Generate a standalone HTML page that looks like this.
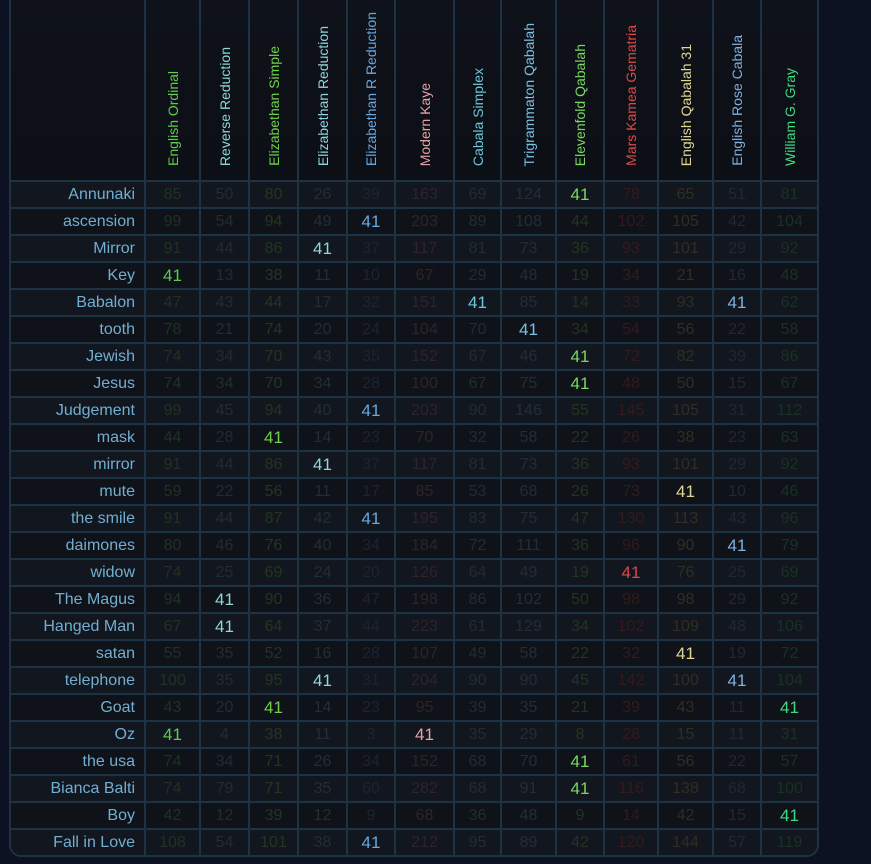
<!DOCTYPE html>
<html><head><meta charset="utf-8"><style>
html,body{margin:0;padding:0;background:#0c1222;width:871px;height:864px;overflow:hidden}
.wrap{position:absolute;left:9px;top:-12px;width:806px;border:2px solid #1b3343;border-radius:12px;overflow:hidden;background:#0d1017}
table{border-collapse:collapse;table-layout:fixed;width:806px;font-family:"Liberation Sans",sans-serif}
td,th{border:2px solid #1b3343;padding:0;text-align:center}
tr:first-child th{border-top:none}
tr td:first-child,tr th:first-child{border-left:none}
tr td:last-child,tr th:last-child{border-right:none}
tr:last-child td{border-bottom:none}
th{height:190px;vertical-align:bottom;font-weight:normal;background:linear-gradient(#0f121a,#0c0f15)}
th span{display:inline-block;writing-mode:vertical-rl;transform:rotate(180deg);font-size:14px;padding-top:9px;white-space:nowrap}
td{height:25px;font-size:16px;line-height:25px}
tbody tr:nth-child(odd) td{background:#12161f}
tbody tr:nth-child(even) td{background:#0f1219}
td.l{text-align:right;padding-right:9px;color:#72aed0;font-size:16px}
td.h{font-size:17px}
</style></head><body>
<div class="wrap"><table>
<colgroup><col style="width:134px"><col style="width:55px"><col style="width:49px"><col style="width:49px"><col style="width:49px"><col style="width:48px"><col style="width:59px"><col style="width:47px"><col style="width:55px"><col style="width:48px"><col style="width:54px"><col style="width:55px"><col style="width:48px"><col style="width:56px"></colgroup>
<thead><tr><th></th>
<th><span style="color:#5ecb4a">English Ordinal</span></th>
<th><span style="color:#8fd6d6">Reverse Reduction</span></th>
<th><span style="color:#6fd04a">Elizabethan Simple</span></th>
<th><span style="color:#8fd6e0">Elizabethan Reduction</span></th>
<th><span style="color:#6aa8e0">Elizabethan R Reduction</span></th>
<th><span style="color:#e8a0a8">Modern Kaye</span></th>
<th><span style="color:#6cc8d8">Cabala Simplex</span></th>
<th><span style="color:#7cc0e0">Trigrammaton Qabalah</span></th>
<th><span style="color:#7ad860">Elevenfold Qabalah</span></th>
<th><span style="color:#e04848">Mars Kamea Gematria</span></th>
<th><span style="color:#e0d890">English Qabalah 31</span></th>
<th><span style="color:#80b0e0">English Rose Cabala</span></th>
<th><span style="color:#40d880">William G. Gray</span></th>
</tr></thead>
<tbody id="b">
<tr><td class="l">Annunaki</td><td>85</td><td>50</td><td>80</td><td>26</td><td>39</td><td>163</td><td>69</td><td>124</td><td>41</td><td>78</td><td>65</td><td>51</td><td>81</td></tr>
<tr><td class="l">ascension</td><td>99</td><td>54</td><td>94</td><td>49</td><td>41</td><td>203</td><td>89</td><td>108</td><td>44</td><td>102</td><td>105</td><td>42</td><td>104</td></tr>
<tr><td class="l">Mirror</td><td>91</td><td>44</td><td>86</td><td>41</td><td>37</td><td>117</td><td>81</td><td>73</td><td>36</td><td>93</td><td>101</td><td>29</td><td>92</td></tr>
<tr><td class="l">Key</td><td>41</td><td>13</td><td>38</td><td>11</td><td>10</td><td>67</td><td>29</td><td>48</td><td>19</td><td>34</td><td>21</td><td>16</td><td>48</td></tr>
<tr><td class="l">Babalon</td><td>47</td><td>43</td><td>44</td><td>17</td><td>32</td><td>151</td><td>41</td><td>85</td><td>14</td><td>33</td><td>93</td><td>41</td><td>62</td></tr>
<tr><td class="l">tooth</td><td>78</td><td>21</td><td>74</td><td>20</td><td>24</td><td>104</td><td>70</td><td>41</td><td>34</td><td>54</td><td>56</td><td>22</td><td>58</td></tr>
<tr><td class="l">Jewish</td><td>74</td><td>34</td><td>70</td><td>43</td><td>35</td><td>152</td><td>67</td><td>46</td><td>41</td><td>72</td><td>82</td><td>39</td><td>86</td></tr>
<tr><td class="l">Jesus</td><td>74</td><td>34</td><td>70</td><td>34</td><td>28</td><td>100</td><td>67</td><td>75</td><td>41</td><td>48</td><td>50</td><td>15</td><td>67</td></tr>
<tr><td class="l">Judgement</td><td>99</td><td>45</td><td>94</td><td>40</td><td>41</td><td>203</td><td>90</td><td>146</td><td>55</td><td>145</td><td>105</td><td>31</td><td>112</td></tr>
<tr><td class="l">mask</td><td>44</td><td>28</td><td>41</td><td>14</td><td>23</td><td>70</td><td>32</td><td>58</td><td>22</td><td>26</td><td>38</td><td>23</td><td>63</td></tr>
<tr><td class="l">mirror</td><td>91</td><td>44</td><td>86</td><td>41</td><td>37</td><td>117</td><td>81</td><td>73</td><td>36</td><td>93</td><td>101</td><td>29</td><td>92</td></tr>
<tr><td class="l">mute</td><td>59</td><td>22</td><td>56</td><td>11</td><td>17</td><td>85</td><td>53</td><td>68</td><td>26</td><td>73</td><td>41</td><td>10</td><td>46</td></tr>
<tr><td class="l">the smile</td><td>91</td><td>44</td><td>87</td><td>42</td><td>41</td><td>195</td><td>83</td><td>75</td><td>47</td><td>130</td><td>113</td><td>43</td><td>96</td></tr>
<tr><td class="l">daimones</td><td>80</td><td>46</td><td>76</td><td>40</td><td>34</td><td>184</td><td>72</td><td>111</td><td>36</td><td>96</td><td>90</td><td>41</td><td>79</td></tr>
<tr><td class="l">widow</td><td>74</td><td>25</td><td>69</td><td>24</td><td>20</td><td>126</td><td>64</td><td>49</td><td>19</td><td>41</td><td>76</td><td>25</td><td>69</td></tr>
<tr><td class="l">The Magus</td><td>94</td><td>41</td><td>90</td><td>36</td><td>47</td><td>198</td><td>86</td><td>102</td><td>50</td><td>98</td><td>98</td><td>29</td><td>92</td></tr>
<tr><td class="l">Hanged Man</td><td>67</td><td>41</td><td>64</td><td>37</td><td>44</td><td>223</td><td>61</td><td>129</td><td>34</td><td>102</td><td>109</td><td>48</td><td>106</td></tr>
<tr><td class="l">satan</td><td>55</td><td>35</td><td>52</td><td>16</td><td>28</td><td>107</td><td>49</td><td>58</td><td>22</td><td>32</td><td>41</td><td>19</td><td>72</td></tr>
<tr><td class="l">telephone</td><td>100</td><td>35</td><td>95</td><td>41</td><td>31</td><td>204</td><td>90</td><td>90</td><td>45</td><td>142</td><td>100</td><td>41</td><td>104</td></tr>
<tr><td class="l">Goat</td><td>43</td><td>20</td><td>41</td><td>14</td><td>23</td><td>95</td><td>39</td><td>35</td><td>21</td><td>39</td><td>43</td><td>11</td><td>41</td></tr>
<tr><td class="l">Oz</td><td>41</td><td>4</td><td>38</td><td>11</td><td>3</td><td>41</td><td>35</td><td>29</td><td>8</td><td>28</td><td>15</td><td>11</td><td>31</td></tr>
<tr><td class="l">the usa</td><td>74</td><td>34</td><td>71</td><td>26</td><td>34</td><td>152</td><td>68</td><td>70</td><td>41</td><td>61</td><td>56</td><td>22</td><td>57</td></tr>
<tr><td class="l">Bianca Balti</td><td>74</td><td>79</td><td>71</td><td>35</td><td>60</td><td>282</td><td>68</td><td>91</td><td>41</td><td>116</td><td>138</td><td>68</td><td>100</td></tr>
<tr><td class="l">Boy</td><td>42</td><td>12</td><td>39</td><td>12</td><td>9</td><td>68</td><td>36</td><td>48</td><td>9</td><td>14</td><td>42</td><td>15</td><td>41</td></tr>
<tr><td class="l">Fall in Love</td><td>108</td><td>54</td><td>101</td><td>38</td><td>41</td><td>212</td><td>95</td><td>89</td><td>42</td><td>120</td><td>144</td><td>57</td><td>119</td></tr>
</tbody></table></div>
<script>
var bright=["#5ecb4a","#8fd6d6","#6fd04a","#8fd6e0","#6aa8e0","#e8a0a8","#6cc8d8","#7cc0e0","#7ad860","#e04848","#e0d890","#80b0e0","#40d880"];
var dim=["#1f3322","#212c33","#223621","#222e35","#1c2433","#30232a","#1f2e32","#222e37","#23341f","#341a1d","#302e22","#202736","#1a3125"];
document.querySelectorAll("#b tr").forEach(function(tr){
 var tds=tr.querySelectorAll("td");
 for(var i=1;i<tds.length;i++){if(tds[i].textContent.trim()==="41"){tds[i].style.color=bright[i-1];tds[i].className="h";}else tds[i].style.color=dim[i-1];}
});
</script>
</body></html>
